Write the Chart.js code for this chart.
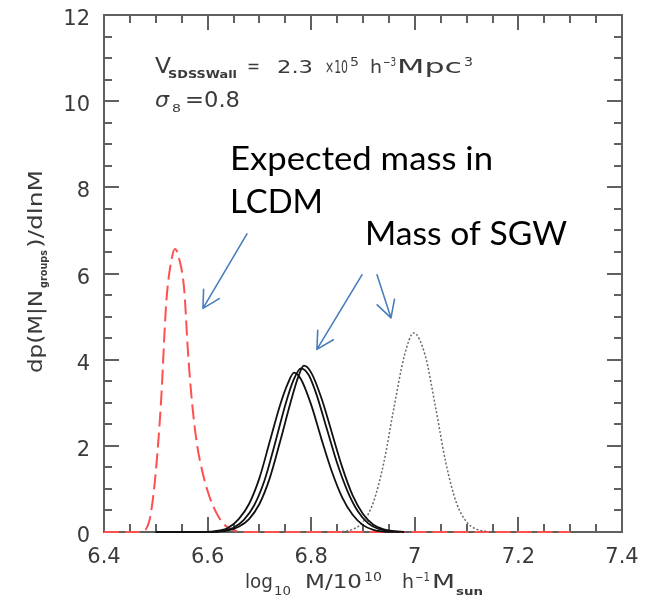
<!DOCTYPE html>
<html>
<head>
<meta charset="utf-8">
<script src="https://cdn.jsdelivr.net/npm/chart.js@4"></script>
<style>
  body { margin: 0; background: #fff; }
  #wrap { width: 651px; height: 605px; }
</style>
</head>
<body>
<div id="wrap"><canvas id="massChart" width="651" height="605"></canvas></div>
<script>
// axes
const xMin = 6.4, xMax = 7.4, yMin = 0, yMax = 12;
const xTickLabels = ['6.4', '6.6', '6.8', '7', '7.2', '7.4'];
const yTickLabels = ['0', '2', '4', '6', '8', '10', '12'];

// expected mass in LCDM (red dashed)
const lcdmX = [6.40, 6.47, 6.48, 6.49, 6.50, 6.51, 6.52, 6.53, 6.537, 6.545, 6.555, 6.562, 6.57, 6.58, 6.59, 6.60, 6.61, 6.62, 6.63, 6.64, 6.65, 6.67, 7.30];
const lcdmY = [0, 0, 0.05, 0.4, 1.4, 3.0, 5.3, 6.3, 6.57, 6.35, 5.6, 4.2, 3.0, 2.0, 1.4, 0.95, 0.62, 0.38, 0.2, 0.1, 0.04, 0, 0];

// mass of SGW (three solid black curves)
const sgwAX = [6.50, 6.60, 6.62, 6.64, 6.66, 6.68, 6.70, 6.72, 6.74, 6.755, 6.767, 6.78, 6.80, 6.82, 6.84, 6.86, 6.88, 6.90, 6.92, 6.94, 6.96];
const sgwAY = [0, 0, 0.03, 0.1, 0.3, 0.65, 1.25, 2.1, 2.95, 3.45, 3.7, 3.55, 2.95, 2.15, 1.4, 0.8, 0.4, 0.16, 0.05, 0.01, 0];
const sgwBX = [6.50, 6.60, 6.63, 6.65, 6.67, 6.69, 6.71, 6.73, 6.75, 6.765, 6.78, 6.795, 6.81, 6.83, 6.85, 6.87, 6.89, 6.91, 6.93, 6.95, 6.97];
const sgwBY = [0, 0, 0.03, 0.1, 0.28, 0.62, 1.2, 2.05, 2.95, 3.5, 3.8, 3.65, 3.2, 2.4, 1.6, 0.95, 0.48, 0.2, 0.07, 0.02, 0];
const sgwCX = [6.50, 6.60, 6.64, 6.66, 6.68, 6.70, 6.72, 6.74, 6.76, 6.775, 6.786, 6.80, 6.82, 6.84, 6.86, 6.88, 6.90, 6.92, 6.94, 6.96, 6.98];
const sgwCY = [0, 0, 0.04, 0.12, 0.3, 0.65, 1.25, 2.1, 3.0, 3.6, 3.86, 3.7, 3.1, 2.3, 1.5, 0.85, 0.42, 0.17, 0.06, 0.02, 0];

// shifted SGW (grey dotted)
const shiftX = [6.86, 6.88, 6.90, 6.92, 6.94, 6.96, 6.98, 6.998, 7.02, 7.04, 7.06, 7.08, 7.10, 7.12, 7.14];
const shiftY = [0.01, 0.06, 0.23, 0.69, 1.6, 2.9, 4.1, 4.62, 4.1, 2.9, 1.6, 0.69, 0.23, 0.06, 0.01];

// annotation arrows, in data units: [x0, y0, x1, y1]
const arrows = [
    [6.676, 6.92, 6.591, 5.19],
    [6.898, 5.97, 6.811, 4.24],
    [6.927, 5.97, 6.954, 4.97]
];

function pts(xs, ys) {
    return xs.map((x, i) => ({ x: x, y: ys[i] }));
}

const textGrey = '#3a3a3a';
const plotFont = '"DejaVu Sans", sans-serif';

// text squeezed/stretched to span x0..x1 (the old plot font is wide)
function fitText(ctx, t, x0, x1, base, font) {
    ctx.font = font;
    const w = ctx.measureText(t).width;
    ctx.save();
    ctx.translate(x0, base);
    ctx.scale((x1 - x0) / w, 1);
    ctx.fillText(t, 0, 0);
    ctx.restore();
}

const framePlugin = {
    id: 'frame',
    beforeDatasetsDraw(chart) {
        const { ctx, chartArea: a, scales: { x, y } } = chart;
        ctx.save();
        ctx.strokeStyle = '#606060';
        ctx.lineWidth = 2;
        ctx.strokeRect(a.left, a.top, a.right - a.left, a.bottom - a.top);
        ctx.beginPath();
        for (let i = 0; i <= 20; i++) {
            const px = Math.round(x.getPixelForValue(xMin + i * 0.05));
            const len = i % 4 === 0 ? 15 : 8;
            ctx.moveTo(px, a.bottom); ctx.lineTo(px, a.bottom - len);
            ctx.moveTo(px, a.top); ctx.lineTo(px, a.top + len);
        }
        for (let i = 0; i <= 24; i++) {
            const py = Math.round(y.getPixelForValue(yMin + i * 0.5));
            const len = i % 4 === 0 ? 15 : 8;
            ctx.moveTo(a.left, py); ctx.lineTo(a.left + len, py);
            ctx.moveTo(a.right, py); ctx.lineTo(a.right - len, py);
        }
        ctx.stroke();

        // tick labels
        ctx.fillStyle = textGrey;
        ctx.font = '21px ' + plotFont;
        ctx.textAlign = 'center';
        for (const lab of xTickLabels) {
            ctx.fillText(lab, x.getPixelForValue(parseFloat(lab)), a.bottom + 31);
        }
        ctx.textAlign = 'right';
        for (const lab of yTickLabels) {
            ctx.fillText(lab, a.left - 14, y.getPixelForValue(parseFloat(lab)) + 10);
        }
        ctx.restore();
    },
    afterDraw(chart) {
        const { ctx, scales: { x, y } } = chart;
        ctx.save();
        ctx.fillStyle = textGrey;
        ctx.textBaseline = 'alphabetic';
        ctx.textAlign = 'left';

        // x title
        fitText(ctx, 'log', 245, 273, 588, '19px ' + plotFont);
        fitText(ctx, '10', 274, 291, 595, '12px ' + plotFont);
        fitText(ctx, 'M/10', 305, 362, 588, '19px ' + plotFont);
        fitText(ctx, '10', 364, 382, 581, '12px ' + plotFont);
        fitText(ctx, 'h', 402, 414, 588, '19px ' + plotFont);
        fitText(ctx, '\u22121', 415, 430, 581, '12px ' + plotFont);
        fitText(ctx, 'M', 432, 455, 588, '19px ' + plotFont);
        fitText(ctx, 'sun', 456, 483, 595, 'bold 11px ' + plotFont);

        // y title, rotated (x' = -page y)
        ctx.translate(42, 0);
        ctx.rotate(-Math.PI / 2);
        fitText(ctx, 'dp(M|N', -373, -290, 0, '20px ' + plotFont);
        fitText(ctx, 'groups', -288, -250, 5, 'bold 10px ' + plotFont);
        fitText(ctx, ')/dlnM', -248, -170, 0, '20px ' + plotFont);
        ctx.setTransform(1, 0, 0, 1, 0, 0);

        // labels in the top left
        fitText(ctx, 'V', 155, 171, 73, '22px ' + plotFont);
        fitText(ctx, 'SDSSWall', 168, 237, 78, 'bold 11px ' + plotFont);
        fitText(ctx, '=', 247, 260, 72, '18px ' + plotFont);
        fitText(ctx, '2.3', 277, 313, 73, '18px ' + plotFont);
        fitText(ctx, '\u00d710', 325, 348, 73, '17px ' + plotFont);
        fitText(ctx, '5', 350, 359, 66, '12px ' + plotFont);
        fitText(ctx, 'h', 370, 382, 73, '18px ' + plotFont);
        fitText(ctx, '\u22123', 383, 396, 66, '12px ' + plotFont);
        fitText(ctx, 'Mpc', 397, 462, 73, '19px ' + plotFont);
        fitText(ctx, '3', 464, 473, 66, '12px ' + plotFont);
        fitText(ctx, '\u03c3', 155, 169, 107, 'italic 21px ' + plotFont);
        fitText(ctx, '8', 172, 181, 112, '11px ' + plotFont);
        fitText(ctx, '=0.8', 185, 240, 107, '21px ' + plotFont);

        // callout text
        ctx.fillStyle = '#000';
        const callFont = '32px Lato, "Open Sans", sans-serif';
        fitText(ctx, 'Expected mass in', 230, 493, 170, callFont);
        fitText(ctx, 'LCDM', 230, 323, 213, callFont);
        fitText(ctx, 'Mass of SGW', 365, 567, 245, callFont);

        // arrows
        ctx.strokeStyle = '#4a7ebb';
        ctx.lineWidth = 1.6;
        ctx.lineCap = 'round';
        for (const [x0, y0, x1, y1] of arrows) {
            const p0 = [x.getPixelForValue(x0), y.getPixelForValue(y0)];
            const p1 = [x.getPixelForValue(x1), y.getPixelForValue(y1)];
            const ang = Math.atan2(p1[1] - p0[1], p1[0] - p0[0]);
            ctx.beginPath();
            ctx.moveTo(p0[0], p0[1]);
            ctx.lineTo(p1[0], p1[1]);
            for (const s of [-1, 1]) {
                ctx.moveTo(p1[0], p1[1]);
                ctx.lineTo(p1[0] - 19 * Math.cos(ang + s * 0.5), p1[1] - 19 * Math.sin(ang + s * 0.5));
            }
            ctx.stroke();
        }
        ctx.restore();
    }
};

const blackLine = {
    borderColor: '#111111',
    borderWidth: 1.8,
    pointRadius: 0,
    cubicInterpolationMode: 'monotone',
    clip: 4
};

new Chart(document.getElementById('massChart').getContext('2d'), {
    type: 'line',
    data: {
        datasets: [
            Object.assign({ label: 'SGW a', data: pts(sgwAX, sgwAY) }, blackLine),
            Object.assign({ label: 'SGW b', data: pts(sgwBX, sgwBY) }, blackLine),
            Object.assign({ label: 'SGW c', data: pts(sgwCX, sgwCY) }, blackLine),
            {
                label: 'SGW shifted',
                data: pts(shiftX, shiftY),
                borderColor: '#6a6a6a',
                borderWidth: 1.5,
                borderDash: [2, 2],
                pointRadius: 0,
                cubicInterpolationMode: 'monotone',
                clip: 4
            },
            {
                label: 'LCDM',
                data: pts(lcdmX, lcdmY),
                borderColor: '#ff4f4f',
                borderWidth: 2,
                borderDash: [15, 6],
                pointRadius: 0,
                cubicInterpolationMode: 'monotone',
                clip: 4
            }
        ]
    },
    options: {
        responsive: false,
        animation: false,
        devicePixelRatio: 1,
        layout: { padding: { top: 15, right: 29, left: 0, bottom: 0 } },
        plugins: { legend: { display: false }, tooltip: { enabled: false } },
        scales: {
            x: {
                type: 'linear',
                min: xMin,
                max: xMax,
                grid: { display: false, drawTicks: false },
                border: { display: false },
                ticks: { display: false, stepSize: 0.2 },
                afterFit: s => { s.height = 73; }
            },
            y: {
                min: yMin,
                max: yMax,
                grid: { display: false, drawTicks: false },
                border: { display: false },
                ticks: { display: false, stepSize: 2 },
                afterFit: s => { s.width = 104; }
            }
        }
    },
    plugins: [framePlugin]
});
</script>
</body>
</html>
